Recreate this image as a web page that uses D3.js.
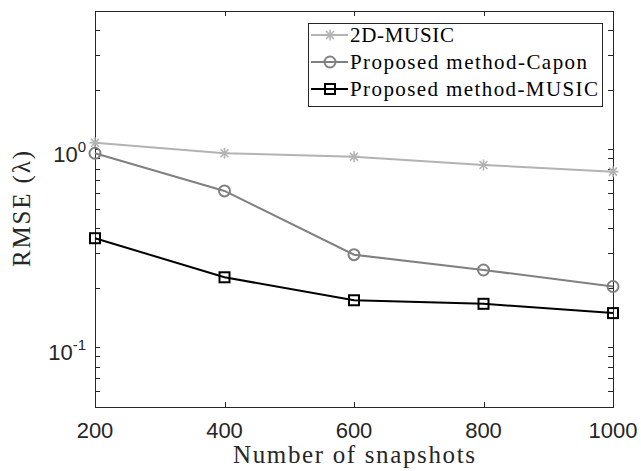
<!DOCTYPE html>
<html>
<head>
<meta charset="utf-8">
<script src="https://cdn.jsdelivr.net/npm/d3@7"></script>
<style>
  body { margin: 0; background: #fff; }
  svg { display: block; }
</style>
</head>
<body>
<div id="chart"></div>
<script>
// data
let snapshots = [200, 400, 600, 800, 1000];
let music2d = [1.08, 0.956, 0.919, 0.834, 0.772];
let caponProposed = [0.956, 0.617, 0.294, 0.246, 0.203];
let musicProposed = [0.356, 0.226, 0.173, 0.166, 0.149];
let seriesNames = ["2D-MUSIC", "Proposed method-Capon", "Proposed method-MUSIC"];
let xTicks = [200, 400, 600, 800, 1000];
let yMajor = [0.1, 1];
let yMinor = [0.06, 0.07, 0.08, 0.09, 0.2, 0.3, 0.4, 0.5, 0.6, 0.7, 0.8, 0.9, 2, 3, 4];

let W = 641, H = 471;
let plotL = 95, plotR = 613, plotT = 11, plotB = 407;
let axisColor = "#262626";
let tickLen = 5;
let serif = "'Liberation Serif', 'Times New Roman', serif";

let svg = d3.select("#chart").append("svg")
  .attr("width", W).attr("height", H);

let x = d3.scaleLinear().domain([200, 1000]).range([plotL, plotR]);
let y = d3.scaleLog().domain([0.05, 5]).range([plotB, plotT]);

let series = [
  {name: seriesNames[0], values: music2d, color: "#b3b3b3", marker: "star", len: 104},
  {name: seriesNames[1], values: caponProposed, color: "#808080", marker: "circle", len: 237},
  {name: seriesNames[2], values: musicProposed, color: "#000000", marker: "square", len: 248}
];

// ticks (inside, on all four sides)
let ticksG = svg.append("g").attr("stroke", axisColor).attr("stroke-width", 1);
xTicks.forEach(t => {
  let px = Math.round(x(t)) + 0.5;
  ticksG.append("line").attr("x1", px).attr("x2", px).attr("y1", plotB).attr("y2", plotB - tickLen);
  ticksG.append("line").attr("x1", px).attr("x2", px).attr("y1", plotT).attr("y2", plotT + tickLen);
});
yMajor.concat(yMinor).forEach(t => {
  let py = Math.round(y(t)) + 0.5;
  ticksG.append("line").attr("x1", plotL).attr("x2", plotL + tickLen).attr("y1", py).attr("y2", py);
  ticksG.append("line").attr("x1", plotR).attr("x2", plotR - tickLen).attr("y1", py).attr("y2", py);
});

// box
svg.append("rect")
  .attr("x", plotL + 0.5).attr("y", plotT + 0.5)
  .attr("width", plotR - plotL).attr("height", plotB - plotT)
  .attr("fill", "none").attr("stroke", axisColor).attr("stroke-width", 1);

// x tick labels
svg.append("g").selectAll("text")
  .data(xTicks).enter().append("text")
  .attr("x", d => x(d)).attr("y", 438)
  .attr("text-anchor", "middle")
  .attr("font-family", "'Liberation Sans', Arial, sans-serif")
  .attr("font-size", 22).attr("fill", axisColor)
  .text(d => d);

// y tick labels 10^n
yMajor.forEach(t => {
  let e = Math.round(Math.log10(t));
  let txt = svg.append("text")
    .attr("x", 86).attr("y", y(t) + 12.5)
    .attr("text-anchor", "end")
    .attr("font-family", "'Liberation Sans', Arial, sans-serif")
    .attr("font-size", 22).attr("fill", axisColor);
  txt.append("tspan").text("10");
  txt.append("tspan").attr("dy", -10).attr("font-size", 15).text(e);
});

// axis titles
svg.append("text")
  .attr("x", (plotL + plotR) / 2 - 121).attr("y", 463)
  .attr("font-family", serif)
  .attr("font-size", 25).attr("fill", axisColor)
  .attr("textLength", 242).attr("lengthAdjust", "spacing")
  .text("Number of snapshots");

svg.append("text")
  .attr("transform", "translate(30," + ((plotT + plotB) / 2 + 58) + ") rotate(-90)")
  .attr("font-family", serif)
  .attr("font-size", 25).attr("fill", axisColor)
  .attr("textLength", 116).attr("lengthAdjust", "spacing")
  .text("RMSE (λ)");

let drawMarker = (g, type, cx, cy, color) => {
  if (type === "circle") {
    g.append("circle").attr("cx", cx).attr("cy", cy).attr("r", 5.5)
      .attr("fill", "none").attr("stroke", color).attr("stroke-width", 2);
  } else if (type === "square") {
    g.append("rect").attr("x", cx - 5).attr("y", cy - 5).attr("width", 10).attr("height", 10)
      .attr("fill", "none").attr("stroke", color).attr("stroke-width", 2);
  } else {
    let r = 5.5, d = r * 0.72;
    let p = "M" + (cx - r) + "," + cy + "h" + 2 * r +
      "M" + cx + "," + (cy - r) + "v" + 2 * r +
      "M" + (cx - d) + "," + (cy - d) + "l" + 2 * d + "," + 2 * d +
      "M" + (cx - d) + "," + (cy + d) + "l" + 2 * d + "," + (-2 * d);
    g.append("path").attr("d", p).attr("stroke", color).attr("stroke-width", 1.6).attr("fill", "none");
  }
};

// lines + markers
let line = d3.line().x(d => x(d[0])).y(d => y(d[1]));
series.forEach(s => {
  let pts = snapshots.map((n, i) => [n, s.values[i]]);
  svg.append("path").datum(pts)
    .attr("d", line).attr("fill", "none")
    .attr("stroke", s.color).attr("stroke-width", 2);
  let g = svg.append("g");
  pts.forEach(p => drawMarker(g, s.marker, x(p[0]), y(p[1]), s.color));
});

// legend
let lg = svg.append("g");
lg.append("rect")
  .attr("x", 308.5).attr("y", 23.5).attr("width", 294).attr("height", 83)
  .attr("fill", "#fff").attr("stroke", axisColor).attr("stroke-width", 1);
series.forEach((s, i) => {
  let cy = 35 + i * 27;
  lg.append("line").attr("x1", 311).attr("x2", 348).attr("y1", cy).attr("y2", cy)
    .attr("stroke", s.color).attr("stroke-width", 2);
  drawMarker(lg, s.marker, 330, cy, s.color);
  lg.append("text")
    .attr("x", 350).attr("y", cy + 6.5)
    .attr("font-family", serif)
    .attr("font-size", 21).attr("fill", "#000")
    .attr("textLength", s.len).attr("lengthAdjust", "spacing")
    .text(s.name);
});
</script>
</body>
</html>
